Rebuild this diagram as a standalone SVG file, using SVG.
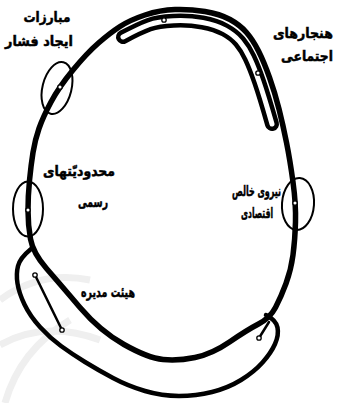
<svg xmlns="http://www.w3.org/2000/svg" width="339" height="403" viewBox="0 0 339 403">
<style>
.loop{fill:none;stroke:#000;stroke-width:5.5;stroke-linejoin:round;stroke-linecap:round}
.bandO{fill:none;stroke:#000;stroke-width:14;stroke-linecap:round;stroke-linejoin:round}
.bandI{fill:none;stroke:#fff;stroke-width:5;stroke-linecap:round;stroke-linejoin:round}
.edge{fill:none;stroke:#000;stroke-width:4.5;stroke-linecap:round;stroke-linejoin:round}
.thin{fill:none;stroke:#000;stroke-width:2.5;stroke-linecap:round}
.ring{fill:none;stroke:#000;stroke-width:2}
.dot{fill:#fff;stroke:#000;stroke-width:1.3}
.lbl{font-family:"DejaVu Sans",sans-serif;font-weight:bold;font-size:14px;fill:#000;stroke:#000;stroke-width:0.5;text-anchor:middle}
.wm{fill:none;stroke:#efefef;stroke-width:7}
</style>
<rect width="339" height="403" fill="#fff"/>
<g id="watermark">
<path class="wm" d="M0,300 Q40,270 90,280"/>
<path class="wm" d="M0,345 Q45,320 100,340"/>
<path class="wm" d="M5,403 Q20,350 70,320"/>
</g>
<g id="connectors">
<path id="band-top-outline" class="bandO" d="M123,37 Q140,28 149,24.75 Q158,21.5 173.5,20.75 Q189,20 202.5,22.5 Q216,25 225,30 Q234,35 239.5,41.5 Q245,48 249.5,57.5 Q254,67 259,81.5 Q264,96 272,124"/>
<path class="bandI" d="M123,37 Q140,28 149,24.75 Q158,21.5 173.5,20.75 Q189,20 202.5,22.5 Q216,25 225,30 Q234,35 239.5,41.5 Q245,48 249.5,57.5 Q254,67 259,81.5 Q264,96 272,124"/>
<path id="main-loop" class="loop" d="M145,15 Q160,10 175,9.5 Q190,9 205,11.5 Q220,14 230,19.5 Q240,25 246.5,32.5 Q253,40 258.5,51 Q264,62 269.5,77.5 Q275,93 279,109 Q283,125 286.5,142.5 Q290,160 293,182 Q296,204 295.5,222 Q295,240 293,255 Q291,270 286,283.5 Q281,297 275.5,307.5 Q270,318 258.5,324 Q247,330 229.5,342 Q212,354 195,357.5 Q178,361 163,359.5 Q148,358 124,344.5 Q100,331 80,307.5 Q60,284 46.5,268.5 Q33,253 30.5,239 Q28,225 28,210.5 Q28,196 29.5,180.5 Q31,165 33,152.5 Q35,140 39,128.5 Q43,117 51,102 Q59,87 73,70 Q87,53 98.5,43 Q110,33 120,26.5 Q130,20 145,15 Z"/>
<path id="band-bottom" class="edge" d="M31,249 Q20,258 18,266 Q16,274 17.5,283.5 Q19,293 24.5,304.5 Q30,316 40,327 Q50,338 61,346 Q72,354 85,362 Q98,370 113,378 Q128,386 145,391 Q162,396 179,396 Q196,396 212,392 Q228,388 241,380 Q254,372 262.5,362.5 Q271,353 275,344 Q279,335 277.5,327.5 Q276,320 266,315"/>
<line class="thin" x1="35" y1="275" x2="62" y2="330"/>
<line class="thin" x1="259" y1="338" x2="269" y2="322"/>
</g>
<g id="node-pressure">
<ellipse class="ring" cx="57" cy="88" rx="14.5" ry="26.5" transform="rotate(14 57 88)"/>
<circle class="dot" cx="60" cy="87" r="2.2"/>
<text class="lbl" x="47" y="22" textLength="47" lengthAdjust="spacingAndGlyphs">مبارزات</text>
<text class="lbl" x="39" y="46" textLength="68" lengthAdjust="spacingAndGlyphs">ایجاد فشار</text>
</g>
<g id="node-norms">
<circle class="dot" cx="164" cy="20" r="2.2"/>
<circle class="dot" cx="258" cy="73" r="2.2"/>
<text class="lbl" x="303" y="38" textLength="60" lengthAdjust="spacingAndGlyphs">هنجارهای</text>
<text class="lbl" x="307" y="61" textLength="52" lengthAdjust="spacingAndGlyphs">اجتماعی</text>
</g>
<g id="node-formal">
<ellipse class="ring" cx="28" cy="209" rx="15" ry="27.5"/>
<circle class="dot" cx="28" cy="210" r="2.2"/>
<text class="lbl" x="79" y="176" textLength="72" lengthAdjust="spacingAndGlyphs">محدودیّتهای</text>
<text class="lbl" x="93" y="207" textLength="30" lengthAdjust="spacingAndGlyphs">رسمی</text>
</g>
<g id="node-economic">
<ellipse class="ring" cx="298" cy="204" rx="16" ry="26" transform="rotate(4 298 204)"/>
<circle class="dot" cx="295" cy="203" r="2.2"/>
<text class="lbl" x="256.5" y="196" textLength="49" lengthAdjust="spacingAndGlyphs">نیروی خالص</text>
<text class="lbl" x="257" y="218" textLength="32" lengthAdjust="spacingAndGlyphs">اقتصادی</text>
</g>
<g id="node-board">
<circle class="dot" cx="35" cy="275" r="2.2"/>
<circle class="dot" cx="62" cy="330" r="2.2"/>
<circle class="dot" cx="259" cy="338" r="2.2"/>
<text class="lbl" x="108" y="297" textLength="54" lengthAdjust="spacingAndGlyphs">هیئت مدیره</text>
</g>
</svg>
